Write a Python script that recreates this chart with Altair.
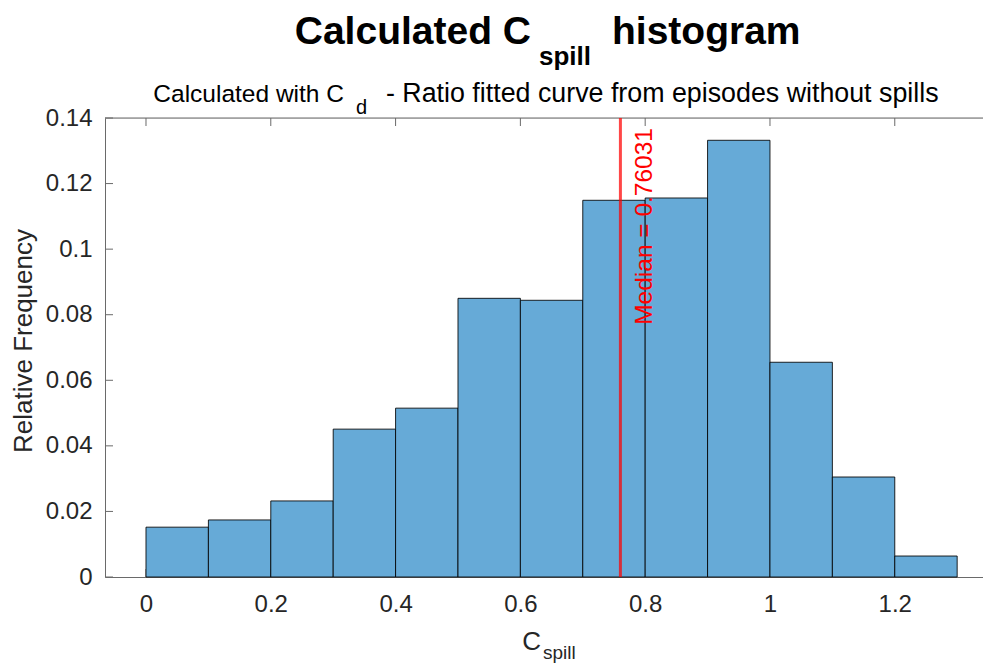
import altair as alt
import pandas as pd

# ---- data ----
bin_left = [0.0, 0.1, 0.2, 0.3, 0.4, 0.5, 0.6, 0.7, 0.8, 0.9, 1.0, 1.1, 1.2]
bin_width = 0.1
rel_freq = [0.0152, 0.0174, 0.0232, 0.0451, 0.0515, 0.0850, 0.0844,
            0.1149, 0.1156, 0.1332, 0.0655, 0.0305, 0.0064]
median_value = 0.76031
x_ticks = [0, 0.2, 0.4, 0.6, 0.8, 1.0, 1.2]
y_ticks = [0, 0.02, 0.04, 0.06, 0.08, 0.10, 0.12, 0.14]
x_domain = [-0.0657, 1.3414]
y_domain = [0, 0.14]

FONT = "Liberation Sans"
AXC = "#6a6a6a"
TXT = "#262626"
W, H = 878, 459

bars_df = pd.DataFrame({
    "x0": bin_left,
    "x1": [b + bin_width for b in bin_left],
    "freq": rel_freq,
})

xs = alt.Scale(domain=x_domain, nice=False, zero=False)
ys = alt.Scale(domain=y_domain, nice=False)

x_axis = alt.Axis(values=x_ticks, format=".1~f", grid=False, ticks=False, tickSize=0,
                  domain=True, domainColor=AXC, domainWidth=1,
                  labelFontSize=24, labelFont=FONT, labelColor=TXT,
                  labelPadding=15, title=None, labelFlush=False)
y_axis = alt.Axis(values=y_ticks, format=".2~f", grid=False, ticks=False, tickSize=0,
                  domain=True, domainColor=AXC, domainWidth=1,
                  labelFontSize=24, labelFont=FONT, labelColor=TXT,
                  labelPadding=13, title=None, labelFlush=False)

# inward tick marks (MATLAB style)
xt_df = pd.DataFrame({"v": x_ticks})
yt_df = pd.DataFrame({"v": y_ticks})
top_ticks = alt.Chart(xt_df).mark_rule(color=AXC, strokeWidth=1).encode(
    x=alt.X("v:Q", scale=xs, axis=x_axis), y=alt.value(0), y2=alt.value(8))
bot_ticks = alt.Chart(xt_df).mark_rule(color=AXC, strokeWidth=1).encode(
    x=alt.X("v:Q", scale=xs), y=alt.value(H), y2=alt.value(H - 8))
left_ticks = alt.Chart(yt_df).mark_rule(color=AXC, strokeWidth=1).encode(
    y=alt.Y("v:Q", scale=ys, axis=y_axis), x=alt.value(0), x2=alt.value(8))
top_line = alt.Chart(pd.DataFrame({"k": [0]})).mark_rule(color=AXC, strokeWidth=1).encode(
    x=alt.value(0), x2=alt.value(W), y=alt.value(0))

bars = alt.Chart(bars_df).mark_bar(color="#66AAD7", stroke="#000000",
                                   strokeWidth=1, strokeOpacity=0.85, opacity=1).encode(
    x=alt.X("x0:Q", scale=xs),
    x2="x1:Q",
    y=alt.Y("freq:Q", scale=ys),
    y2=alt.datum(0),
)

med_df = pd.DataFrame({"m": [median_value], "lab": [f"Median = {median_value}"]})
med_line = alt.Chart(med_df).mark_rule(color="#ff0000", strokeWidth=3, opacity=0.72).encode(
    x=alt.X("m:Q", scale=xs), y=alt.value(0), y2=alt.value(H))
med_text = alt.Chart(med_df).mark_text(angle=270, align="right", baseline="alphabetic",
                                       dy=32, fontSize=24.5, font=FONT, color="#ff0000").encode(
    x=alt.X("m:Q", scale=xs), y=alt.value(10), text="lab:N")

one = pd.DataFrame({"k": [0]})
OX, OY = 105, 118  # page position of plot origin


def txt(s, px, py, size, align="left", weight="normal", angle=0, color="#000000"):
    return alt.Chart(one).mark_text(text=s, align=align, baseline="alphabetic",
                                    fontSize=size, fontWeight=weight, font=FONT,
                                    angle=angle, color=color).encode(
        x=alt.value(px - OX), y=alt.value(py - OY))


title_parts = [
    txt("Calculated C", 531, 44, 39, align="right", weight="bold"),
    txt("spill", 539, 65, 26, weight="bold"),
    txt("histogram", 612, 44, 39, weight="bold"),
]
sub_parts = [
    txt("Calculated with C", 344, 102, 24.5, align="right"),
    txt("d", 356, 114, 20),
    txt("- Ratio fitted curve from episodes without spills", 386, 102, 26.8),
]
xlab = [
    txt("C", 541, 650, 26, align="right", color=TXT),
    txt("spill", 543, 659, 19, color=TXT),
]
ylab = [txt("Relative Frequency", 32, 341, 26, align="center", angle=270, color=TXT)]

chart = alt.layer(
    top_ticks, bot_ticks, left_ticks, top_line, bars, med_line, med_text,
    *title_parts, *sub_parts, *xlab, *ylab
).properties(
    width=W, height=H,
    autosize=alt.AutoSizeParams(type="none"),
    padding={"left": 97, "top": 110, "right": 0, "bottom": 88},
).configure_view(strokeWidth=0).configure(background="white")

chart.save("out.html", embed_options={"renderer": "svg", "actions": False})
